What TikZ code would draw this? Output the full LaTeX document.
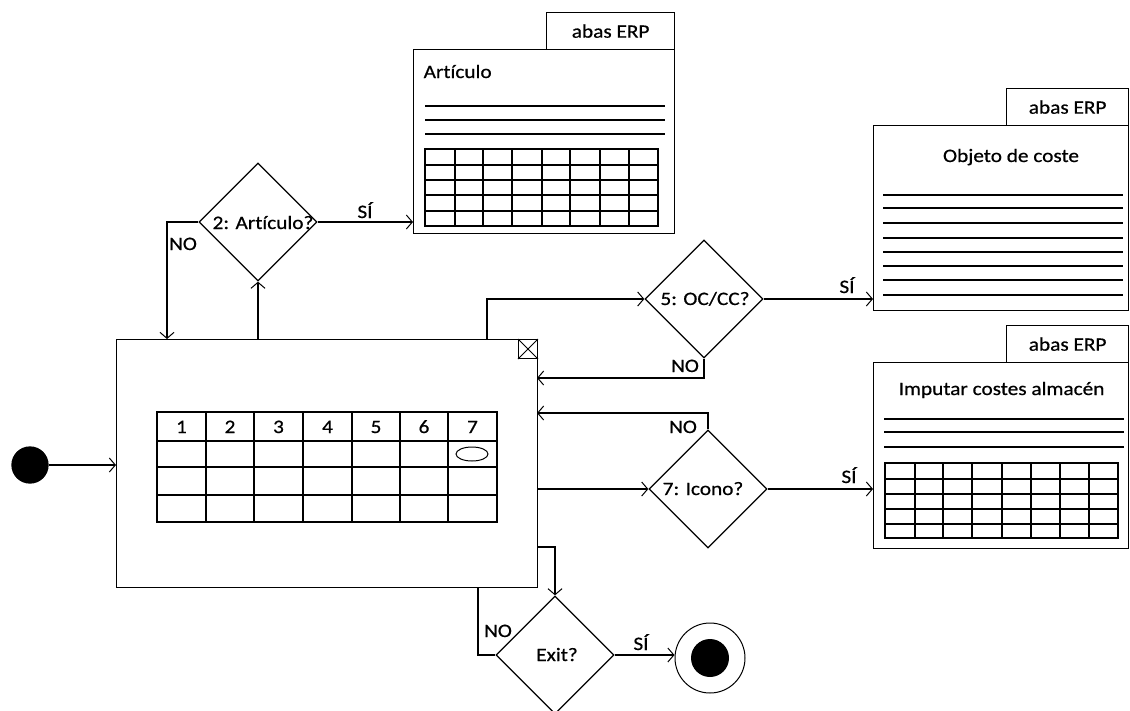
\documentclass[tikz,border=0pt]{standalone}
\usepackage{fontspec}
\setmainfont{Carlito}[FakeStretch=1.12,FakeBold=0.6,Ligatures={NoCommon}]
\usetikzlibrary{shapes.geometric,arrows.meta}
\begin{document}
\begin{tikzpicture}[x=1pt,y=-1pt,line width=1.3pt,
  every node/.style={font=\fontsize{19}{22}\selectfont},
  box/.style={draw,rectangle,inner sep=0,anchor=north west},
  dia/.style={draw,diamond,aspect=1,inner sep=0,minimum size=118},
  arr/.style={-{Straight Barb[length=6pt,width=14pt,line width=1pt]}},
  lbl/.style={inner sep=0,anchor=base}]
\useasboundingbox (0,0) rectangle (1130,710);

% start and end
\node[circle,fill=black,draw,minimum size=36,inner sep=0] (start) at (30,465) {};
\node[circle,draw,minimum size=70,inner sep=0,line width=1pt] (fin) at (710,658) {};
\node[circle,fill=black,minimum size=38,inner sep=0] (finin) at (fin) {};

% main window
\node[box,minimum width=421,minimum height=248] (main) at (116,339) {};
\node[box,minimum width=19,minimum height=19,line width=1pt] (close) at (518,339) {};
\draw[line width=0.8pt] (close.north west) -- (close.south east) (close.north east) -- (close.south west);
\draw (157,412) rectangle (497,522);
\foreach \y in {441,467,495} \draw (157,\y) -- (497,\y);
\foreach \x in {206,254,303,352,400,448} \draw (\x,412) -- (\x,522);
\foreach \x/\n in {181.5/1,230/2,278.5/3,327.5/4,376/5,424/6,472.5/7}
  \node[lbl] at (\x,433) {\n};
\draw[line width=1pt] (472,454) ellipse [x radius=16,y radius=7];

% diamonds
\node[dia] (d2) at (258,222) {};
\node[lbl] at (263,229) {2: Artículo?};
\node[dia] (d5) at (704,299) {};
\node[lbl] at (705,305) {5: OC/CC?};
\node[dia] (d7) at (708,489) {};
\node[lbl] at (703,495) {7: Icono?};
\node[dia] (dx) at (555,655) {};
\node[lbl] at (557,661) {Exit?};

% Artículo box
\node[box,minimum width=128,minimum height=37] (artTab) at (546,12) {abas ERP};
\node[box,minimum width=261,minimum height=184] (art) at (413,49) {};
\node[lbl,anchor=base west] at (423,78) {Artículo};
\foreach \y in {106,120,134} \draw (425,\y) -- (665,\y);
\draw (425,149) rectangle (658,226);
\foreach \y in {165,180,195,211} \draw (425,\y) -- (658,\y);
\foreach \x in {455,483,512,542,570,600,629} \draw (\x,149) -- (\x,226);

% Objeto de coste box
\node[box,minimum width=122,minimum height=37] (objTab) at (1006,88) {abas ERP};
\node[box,minimum width=255,minimum height=185] (obj) at (873,125) {};
\node[lbl] at (1011,162) {Objeto de coste};
\foreach \y in {195,208,223,238,252,266,280,295} \draw (883,\y) -- (1123,\y);

% Imputar box
\node[box,minimum width=122,minimum height=37] (impTab) at (1006,325) {abas ERP};
\node[box,minimum width=255,minimum height=186] (imp) at (873,362) {};
\node[lbl,anchor=base west] at (898,395) {Imputar costes almacén};
\foreach \y in {419,432,447} \draw (884,\y) -- (1124,\y);
\draw (885,463) rectangle (1118,538);
\foreach \y in {479,494,509,524} \draw (885,\y) -- (1118,\y);
\foreach \x in {915,943,972,1002,1031,1060,1089} \draw (\x,463) -- (\x,538);

% connection points on main window
\coordinate (n2) at (167,339);
\coordinate (m5) at (487,339);
\coordinate (c5) at (537,378);
\coordinate (c7) at (537,413);
\coordinate (cx) at (537,547);
\coordinate (bx) at (478,587);

% connectors
\draw[arr] (start) -- (start -| main.west);
\draw[arr] (main.north -| d2) -- (d2.south);
\draw[arr] (d2.west) -| (n2);
\node[lbl] at (183,250) {NO};
\draw[arr] (d2.east) -- (d2.east -| art.west);
\node[lbl] at (365,218) {SÍ};

\draw[arr] (m5) |- (d5.west);
\draw[arr] (d5.east) -- (d5.east -| obj.west);
\node[lbl] at (847,293) {SÍ};
\draw[arr] (d5.south) |- (c5);
\node[lbl] at (685,372) {NO};

\draw[arr] (main.east |- d7) -- (d7.west);
\draw[arr] (d7.east) -- (d7.east -| imp.west);
\node[lbl] at (849,483) {SÍ};
\draw[arr] (d7.north) |- (c7);
\node[lbl] at (683,433) {NO};

\draw[arr] (cx) -| (dx.north);
\draw (bx) |- (dx.west);
\node[lbl] at (498,637) {NO};
\draw[arr] (dx.east) -- (dx.east -| fin.west);
\node[lbl] at (641,650) {SÍ};
\end{tikzpicture}
\end{document}
